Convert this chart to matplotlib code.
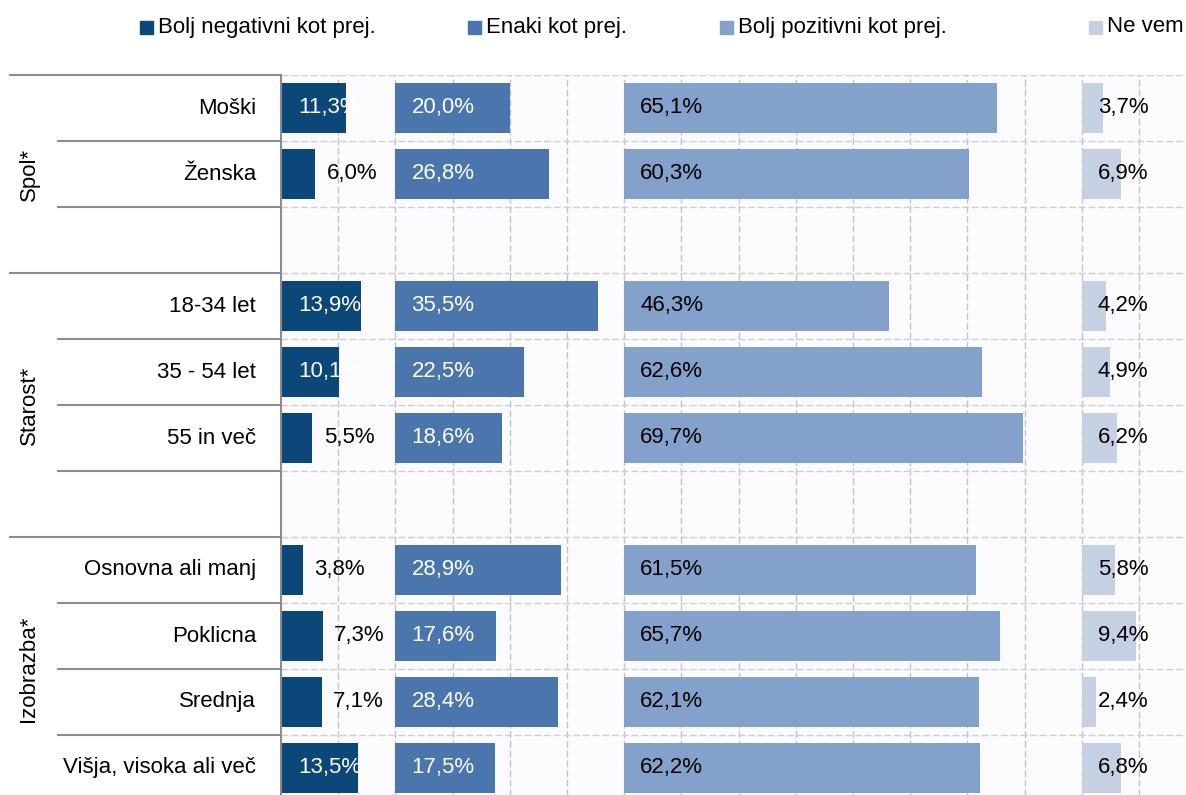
import matplotlib
matplotlib.use("Agg")
import matplotlib.pyplot as plt
import numpy as np
from matplotlib import font_manager
from matplotlib.patches import Rectangle

# legend / series names
series = ['Bolj negativni kot prej.', 'Enaki kot prej.', 'Bolj pozitivni kot prej.', 'Ne vem']
colors = ['#0b4778', '#4a76ad', '#84a1cb', '#c5d0e3']

# groups and their rows
groups = ['Spol*', 'Starost*', 'Izobrazba*']
group_items = [
    ['Moški', 'Ženska'],
    ['18-34 let', '35 - 54 let', '55 in več'],
    ['Osnovna ali manj', 'Poklicna', 'Srednja', 'Višja, visoka ali več'],
]

# values in %, same order as the rows above
negativni = [11.3, 6.0, 13.9, 10.1, 5.5, 3.8, 7.3, 7.1, 13.5]
enaki = [20.0, 26.8, 35.5, 22.5, 18.6, 28.9, 17.6, 28.4, 17.5]
pozitivni = [65.1, 60.3, 46.3, 62.6, 69.7, 61.5, 65.7, 62.1, 62.2]
ne_vem = [3.7, 6.9, 4.2, 4.9, 6.2, 5.8, 9.4, 2.4, 6.8]

# each series starts at its own offset on the common axis
offsets = [0, 20, 60, 140]

names = {f.name for f in font_manager.fontManager.ttflist}
if 'Liberation Sans Narrow' in names:
    plt.rcParams['font.family'] = ['Liberation Sans Narrow', 'DejaVu Sans']
else:
    plt.rcParams['font.family'] = ['Liberation Sans', 'DejaVu Sans']
fs = 16

# row positions: a blank row between groups
ypos = []
labels = []
group_bounds = []
row = 0
for g, items in enumerate(group_items):
    start = row
    for it in items:
        ypos.append(row)
        labels.append(it)
        row += 1
    if g < len(group_items) - 1:
        row += 1  # spacer row
    group_bounds.append((start - 0.5, row - 0.5 if g < len(group_items) - 1 else row - 0.5))
n_rows = row
ypos = np.array(ypos)

W, H = 1186, 795
fig = plt.figure(figsize=(W / 100, H / 100), dpi=100)
ax = fig.add_axes([281 / W, -6 / H, 905 / W, 726 / H])
ax.set_facecolor('#fbfbfd')
ax.set_xlim(0, 905 / 5.72)
ax.set_ylim(n_rows - 0.5, -0.5)

dash = (0, (5, 2))
for x in np.arange(10, 160, 10):
    ax.axvline(x, color='#c4c4c4', lw=1, ls=dash, zorder=0)
for b in np.arange(-0.5, n_rows, 1):
    ax.axhline(b, color='#cfcfcf', lw=1, ls=dash, zorder=0)

all_vals = [negativni, enaki, pozitivni, ne_vem]
bh = 0.76
for k, vals in enumerate(all_vals):
    ax.barh(ypos, vals, left=offsets[k], height=bh, color=colors[k], zorder=2)

def fmt(v):
    return f"{v:.1f}".replace('.', ',') + '%'

for y, v in zip(ypos, negativni):
    if v >= 10:
        ax.text(3.0, y, fmt(v), color='white', ha='left', va='center', fontsize=fs, zorder=3)
    else:
        ax.text(v + 2.0, y, fmt(v), color='black', ha='left', va='center', fontsize=fs, zorder=3)
for y, v in zip(ypos, enaki):
    ax.text(offsets[1] + 2.8, y, fmt(v), color='white', ha='left', va='center', fontsize=fs, zorder=3)
for y, v in zip(ypos, pozitivni):
    ax.text(offsets[2] + 2.8, y, fmt(v), color='black', ha='left', va='center', fontsize=fs, zorder=3)
for y, v in zip(ypos, ne_vem):
    ax.text(offsets[3] + 2.8, y, fmt(v), color='black', ha='left', va='center', fontsize=fs, zorder=3)

ax.set_xticks([])
ax.set_yticks([])
for s in ['top', 'right', 'bottom']:
    ax.spines[s].set_visible(False)
ax.spines['left'].set_color('#8c8c8c')
ax.spines['left'].set_linewidth(1.5)

# left side: category labels, group labels and separator lines
ytr = ax.get_yaxis_transform()
for y, lab in zip(ypos, labels):
    ax.text(-25 / 905, y, lab, transform=ytr, ha='right', va='center', fontsize=fs)

x_group = (10 - 281) / 905
x_sub = (58 - 281) / 905
for g, (lo, hi) in enumerate(group_bounds):
    ax.plot([x_group, 0], [lo, lo], transform=ytr, color='#8c8c8c', lw=1.5, clip_on=False)
    ax.text((29 - 281) / 905, (lo + hi) / 2, groups[g], transform=ytr, rotation=90,
            ha='center', va='center', fontsize=fs)
    for b in np.arange(lo + 1, hi, 1):
        ax.plot([x_sub, 0], [b, b], transform=ytr, color='#8c8c8c', lw=1.5, clip_on=False)

# legend
leg_x = [140, 468, 720, 1089]
for k, name in enumerate(series):
    fig.patches.append(Rectangle((leg_x[k] / W, 1 - 34 / H), 13 / W, 13 / H,
                                 transform=fig.transFigure, color=colors[k]))
    fig.text((leg_x[k] + 18) / W, 1 - 27 / H, name, ha='left', va='center', fontsize=fs)

fig.savefig('out.png', dpi=100)
